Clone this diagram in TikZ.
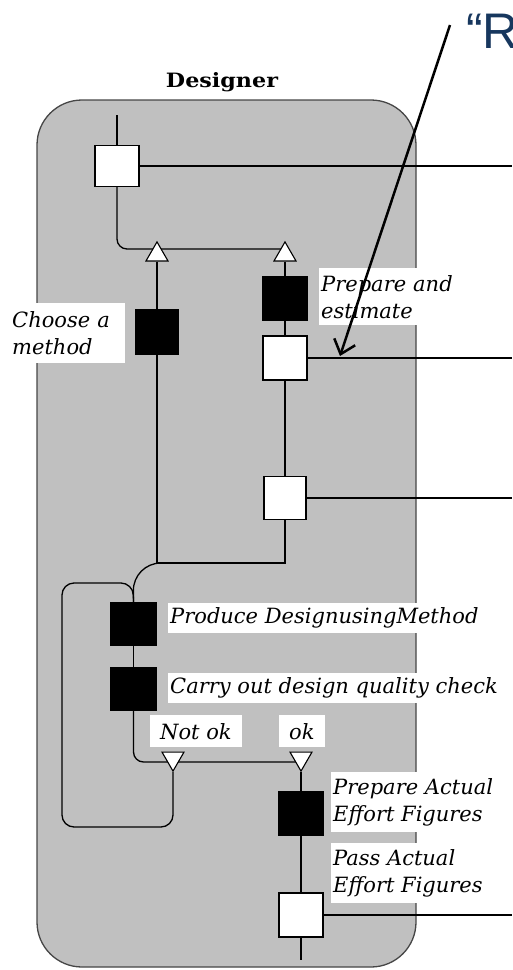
\documentclass[tikz,border=0pt]{standalone}
\usepackage{fontspec}
\usepackage{graphicx}
\setmainfont{DejaVu Serif}
\newfontfamily\arialf{Liberation Sans}
\usetikzlibrary{shapes.geometric,arrows.meta}
\definecolor{lanegray}{RGB}{192,192,192}
\definecolor{laneedge}{RGB}{70,70,70}
\definecolor{titleblue}{RGB}{23,55,94}
\pgfdeclarelayer{lanelayer}
\pgfdeclarelayer{edgelayer}
\pgfdeclarelayer{front}
\pgfsetlayers{lanelayer,edgelayer,main,front}
\begin{document}
\begin{tikzpicture}[x=1pt,y=-1pt,
  wbox/.style={draw,fill=white,line width=1.3pt,minimum width=44pt,minimum height=43pt,inner sep=0pt},
  bbox/.style={draw,fill=black,line width=1.3pt,minimum width=44pt,minimum height=43pt,inner sep=0pt},
  tri/.style={regular polygon,regular polygon sides=3,draw,fill=white,line width=1.1pt,minimum size=25.4pt,inner sep=0pt},
  tridown/.style={tri,shape border rotate=180},
  lbl/.style={fill=white,anchor=north west,inner xsep=2pt,inner ysep=1pt,align=left,font=\fontsize{21}{27}\selectfont\itshape},
  flow/.style={line width=1.3pt},
]
\useasboundingbox (0,0) rectangle (512,970);

% lane
\begin{pgfonlayer}{lanelayer}
\node[draw=laneedge,fill=lanegray,line width=1.3pt,rounded corners=45pt,minimum width=379pt,minimum height=867pt,inner sep=0pt] (lane) at (226.5,533.5) {};
\end{pgfonlayer}
\node[anchor=base,inner sep=0pt] (title) at (222,87) {\resizebox{112pt}{15pt}{\bfseries Designer}};
\node[anchor=base west,inner sep=0pt,text=titleblue,font=\arialf\fontsize{50}{50}\selectfont] (rq) at (466,48) {“R};

% boxes
\coordinate (start) at (117,115);
\node[wbox,minimum height=41pt] (b1) at (117,166) {};
\node[tri] (t1) at (157,254.6) {};
\node[tri] (t2) at (285,254.6) {};
\node[bbox,minimum width=42pt,minimum height=45pt] (k1) at (157,332) {};
\node[bbox] (a2) at (285,298.5) {};
\node[wbox,minimum height=44pt] (b2) at (285,358) {};
\node[wbox,minimum width=42pt] (b3) at (285,498) {};
\node[bbox,minimum width=45pt,minimum height=42pt] (p1) at (133.5,624) {};
\node[bbox,minimum width=45pt,minimum height=42pt] (p2) at (133.5,689) {};
\node[tridown] (n1) at (173,758.4) {};
\node[tridown] (o1) at (301,758.4) {};
\node[bbox] (a3) at (301,813.5) {};
\node[wbox,minimum height=44pt] (b4) at (301,915) {};
\coordinate (fin) at (301,960);

\coordinate (e1) at (512,166);
\coordinate (e2) at (512,358);
\coordinate (e3) at (512,498);
\coordinate (e4) at (512,915);
\coordinate (h1) at (285,249);
\coordinate (j2) at (157,563);
\coordinate (j3) at (175,563);
\coordinate (c1) at (133,563);
\coordinate (l1) at (173,827);
\coordinate (l2) at (62,827);
\coordinate (l3) at (62,583);
\coordinate (l4) at (133,583);
\coordinate (h2) at (301,762);

% labels
\node[lbl,minimum height=60pt,text width=111pt] (lchoose) at (10,303) {Choose a\\method};
\node[lbl,minimum height=57pt,text width=132pt] (lprep) at (319,268) {Prepare and\\estimate};
\node[lbl,minimum height=30pt] (lprod) at (168,603) {Produce DesignusingMethod};
\node[lbl,minimum height=30pt] (lcarry) at (168,673) {Carry out design quality check};
\node[lbl,minimum height=32pt,inner xsep=10pt] (lnot) at (150,715) {Not ok};
\node[lbl,minimum height=32pt,inner xsep=10pt] (lok) at (279,715) {ok};
\node[lbl,minimum height=60pt] (lpa) at (331,772) {Prepare Actual\\Effort Figures};
\node[lbl,minimum height=60pt] (lpass) at (331,843) {Pass Actual\\Effort Figures};

% connectors
\begin{pgfonlayer}{edgelayer}
\draw[flow] (start) -- (b1);
\draw[flow] (b1.east) -- (e1);
\draw[flow,rounded corners=10pt] (b1.south) |- (h1);
\draw[flow] (t1) -- (k1);
\draw[flow] (k1) -- (j2);
\draw[flow] (t2) -- (a2);
\draw[flow] (a2) -- (b2);
\draw[flow] (b2.east) -- (e2);
\draw[flow] (b2) -- (b3);
\draw[flow] (b3.east) -- (e3);
\draw[flow] (b3.south) |- (j2);
\draw[flow,rounded corners=28pt] (j3) -- (c1) -- (p1.north);
\draw[flow,rounded corners=12pt] (n1.south) -- (l1) -- (l2) -- (l3) -- (l4) -- (p1.north);
\draw[flow] (p1) -- (p2);
\draw[flow,rounded corners=10pt] (p2.south) |- (h2);
\draw[flow] (o1) -- (a3);
\draw[flow] (a3) -- (b4);
\draw[flow] (b4) -- (fin);
\draw[flow] (b4.east) -- (e4);
\end{pgfonlayer}

% annotation arrow
\coordinate (arrS) at (450,25);
\coordinate (arrE) at (340,356);
\begin{pgfonlayer}{front}
\draw[line width=2.5pt,-{Straight Barb[length=13pt,width=22pt]}] (arrS) -- (arrE);
\end{pgfonlayer}
\end{tikzpicture}
\end{document}
